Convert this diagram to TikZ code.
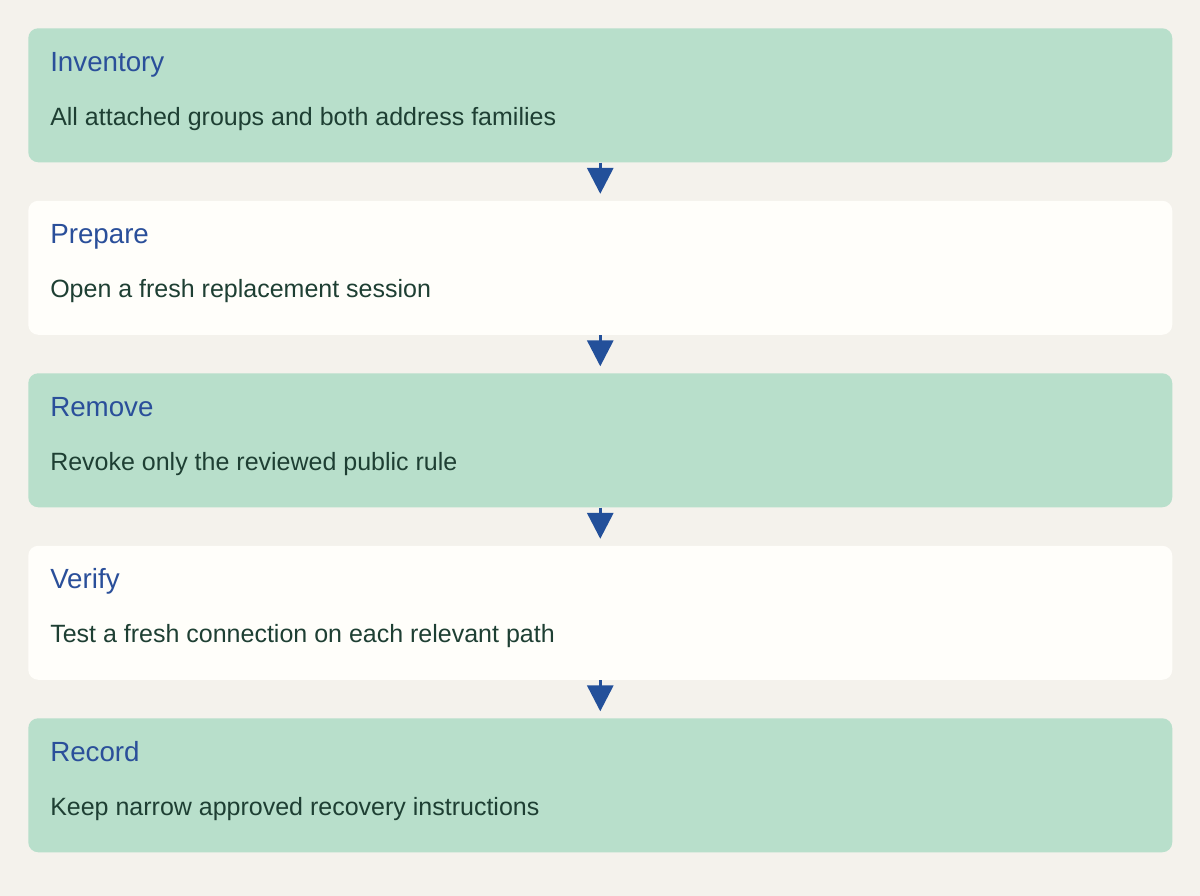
\documentclass[tikz,border=0pt]{standalone}
\usepackage{fontspec}
\setmainfont{Liberation Sans}
\usetikzlibrary{arrows.meta,calc}
\definecolor{bgc}{HTML}{F4F2EC}
\definecolor{greenbox}{HTML}{B8DFCB}
\definecolor{whitebox}{HTML}{FFFEFA}
\definecolor{titleblue}{HTML}{2A4F9A}
\definecolor{bodygreen}{HTML}{1E3F33}
\definecolor{arrowblue}{HTML}{23509A}
\begin{document}
\begin{tikzpicture}[x=0.75pt,y=-0.75pt,
  stepbox/.style={draw=none,rounded corners=7.5pt,minimum width=858pt,minimum height=100.5pt,inner sep=0pt,anchor=north west},
  greenstep/.style={stepbox,fill=greenbox},
  whitestep/.style={stepbox,fill=whitebox},
  steptitle/.style={anchor=base west,inner sep=0pt,text=titleblue,font=\fontsize{20.8pt}{24pt}\selectfont},
  stepbody/.style={anchor=base west,inner sep=0pt,text=bodygreen,font=\fontsize{18.75pt}{22pt}\selectfont},
  flow/.style={draw=arrowblue,line width=2.4pt,-{Triangle[width=19.5pt,length=19.5pt]},shorten >=5pt}]
\fill[bgc] (0,0) rectangle (1200,896);
\useasboundingbox (0,0) rectangle (1200,896);
\node[greenstep] (b1) at (28,28) {};
\node[whitestep] (b2) at (28,200.5) {};
\node[greenstep] (b3) at (28,373) {};
\node[whitestep] (b4) at (28,545.5) {};
\node[greenstep] (b5) at (28,718) {};
\foreach \b/\t/\d in {b1/Inventory/All attached groups and both address families,
  b2/Prepare/Open a fresh replacement session,
  b3/Remove/Revoke only the reviewed public rule,
  b4/Verify/Test a fresh connection on each relevant path,
  b5/Record/Keep narrow approved recovery instructions}{
  \node[steptitle] (\b t) at ($(\b.north west)+(22,43)$) {\t};
  \node[stepbody] (\b d) at ($(\b.north west)+(22,97)$) {\d};
}
\draw[flow] (b1.south) -- (b2.north);
\draw[flow] (b2.south) -- (b3.north);
\draw[flow] (b3.south) -- (b4.north);
\draw[flow] (b4.south) -- (b5.north);
\end{tikzpicture}
\end{document}
